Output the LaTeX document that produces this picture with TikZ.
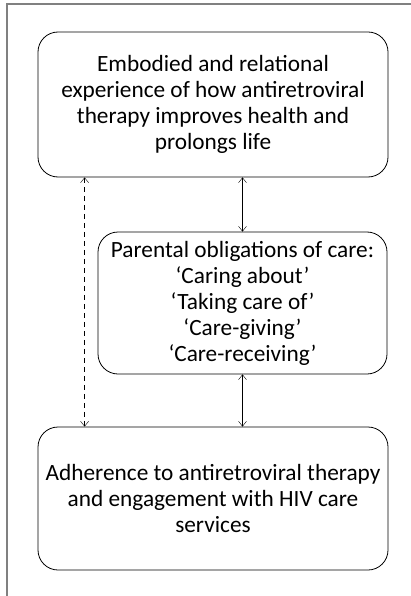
\documentclass[tikz,border=0pt]{standalone}
\usepackage{fontspec}
\setmainfont{Carlito}
\usetikzlibrary{arrows.meta}
\tikzset{
	box/.style={draw,rounded corners=20pt,align=center,inner sep=0pt,line width=0.8pt},
}
\begin{document}
\begin{tikzpicture}[x=1pt,y=-1pt,font=\fontsize{23.3}{26}\selectfont,>={Straight Barb[length=5pt,width=8pt]}]
	\useasboundingbox (0,0) rectangle (411,596);
	\draw[gray,line width=1.2pt] (7,596)--(7,4)--(411,4);
	\node[box,minimum width=350pt,minimum height=145pt] (exper) at (213,104.5) {Embodied and relational\\experience of how antiretroviral\\therapy improves health and\\prolongs life};
	\node[box,minimum width=289pt,minimum height=142pt] (oblig) at (242.5,303) {Parental obligations of care:\\‘Caring about’\\‘Taking care of’\\‘Care-giving’\\‘Care-receiving’};
	\node[box,minimum width=350pt,minimum height=143pt] (adher) at (213,498.5) {Adherence to antiretroviral therapy\\and engagement with HIV care\\services};
	\draw[<->] (exper.south -| oblig.north) -- (oblig.north);
	\draw[<->] (oblig.south) -- (adher.north -| oblig.south);
	\draw[<->,dash pattern=on 5pt off 4pt] ([xshift=47pt]exper.south west) -- ([xshift=47pt]adher.north west);
\end{tikzpicture}
\end{document}
